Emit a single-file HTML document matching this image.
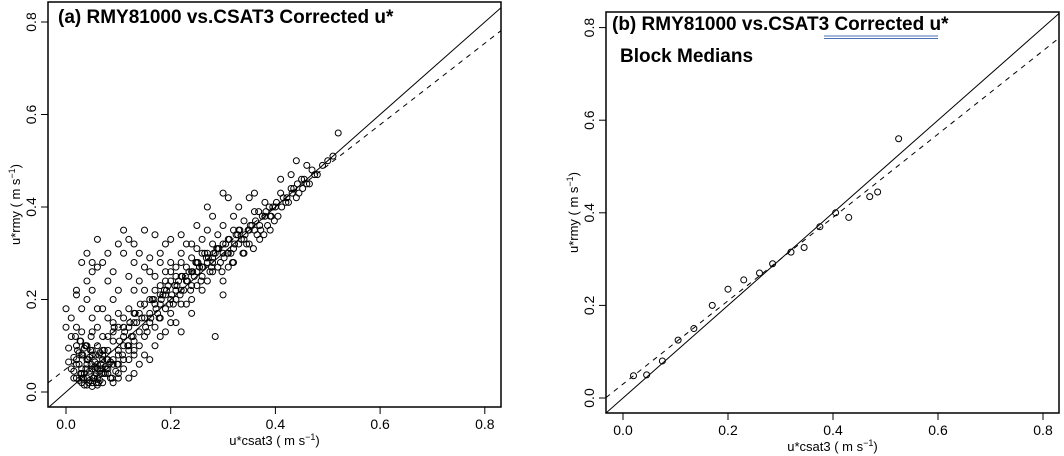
<!DOCTYPE html>
<html><head><meta charset="utf-8"><style>body{margin:0;background:#fff}svg{display:block}</style></head>
<body>
<svg id="c" width="1064" height="456" xmlns="http://www.w3.org/2000/svg" font-family="Liberation Sans, sans-serif">
<defs>
<clipPath id="clipA"><rect x="48" y="2" width="453" height="405"/></clipPath>
<clipPath id="clipB"><rect x="606" y="12" width="453" height="401"/></clipPath>
</defs>
<g id="pa"></g>
<g id="pb"></g>
<text x="58" y="23" font-family="Liberation Sans, sans-serif" font-weight="bold" font-size="19">(a) RMY81000 vs.CSAT3  Corrected u*</text>
<text x="612" y="30" font-weight="bold" font-size="19">(b) RMY81000 vs.CSAT3  Corrected u*</text>
<text x="620" y="62" font-weight="bold" font-size="19">Block Medians</text>
<line x1="824" y1="36" x2="938" y2="36" stroke="#4a6fb5" stroke-width="1"/>
<line x1="824" y1="38.5" x2="938" y2="38.5" stroke="#4a6fb5" stroke-width="1"/>
</svg>
<script>
const ticks = [0, 0.2, 0.4, 0.6, 0.8];
const tickLabels = ["0.0", "0.2", "0.4", "0.6", "0.8"];
const aX = [0.02,0.03,0.04,0.05,0.06,0.07,0.03,0.04,0.05,0.06,0.02,0.03,0.05,0.07,0.08,0.01,0.02,0.04,0.06,0.08,0.09,0.1,0.035,0.045,0.055,0.065,0.025,0.015,0.075,0.085,0.05,0.04,0.03,0.06,0.09,0.1,0.11,0.12,0.13,0.12,0.14,0.07,0.09,0.05,0.03,0.01,0.02,0.0,0.01,0.03,0.04,0.02,0.05,0.06,0.08,0.1,0.11,0.12,0.1,0.08,0.06,0.13,0.14,0.15,0.16,0.15,0.13,0.12,0.11,0.1,0.12,0.14,0.16,0.17,0.18,0.17,0.19,0.2,0.18,0.16,0.15,0.14,0.13,0.12,0.1,0.09,0.08,0.07,0.06,0.04,0.03,0.04,0.05,0.1,0.11,0.12,0.14,0.15,0.17,0.13,0.15,0.17,0.18,0.19,0.2,0.21,0.22,0.21,0.2,0.22,0.23,0.24,0.24,0.25,0.23,0.22,0.2,0.18,0.19,0.25,0.26,0.27,0.26,0.28,0.27,0.29,0.28,0.3,0.31,0.29,0.3,0.32,0.33,0.31,0.32,0.34,0.35,0.33,0.36,0.37,0.35,0.38,0.4,0.39,0.41,0.42,0.43,0.44,0.45,0.43,0.46,0.41,0.44,0.47,0.48,0.49,0.5,0.51,0.52,0.46,0.36,0.37,0.39,0.34,0.3,0.28,0.26,0.24,0.22,0.2,0.18,0.25,0.27,0.24,0.22,0.21,0.19,0.23,0.2,0.24,0.22,0.285,0.3,0.32,0.35,0.25,0.28,0.31,0.3,0.27,0.16,0.18,0.08,0.06,0.11,0.05,0.02,0.0,0.13,0.16,0.09,0.07,0.05,0.09,0.11,0.13,0.15,0.17,0.16,0.18,0.19,0.21,0.14,0.1,0.08,0.07,0.055,0.045,0.035,0.025,0.015,0.065,0.075,0.085,0.095,0.025,0.035,0.045,0.055,0.065,0.015,0.005,0.005,0.26,0.27,0.25,0.23,0.21,0.29,0.31,0.33,0.34,0.36,0.38,0.24,0.22,0.2,0.26,0.28,0.3,0.32,0.17,0.19,0.15,0.13,0.11,0.09,
0.028,0.038,0.048,0.058,0.068,0.078,0.022,0.032,0.042,0.052,0.062,0.072,0.082,0.027,0.037,0.047,0.057,0.067,0.077,0.033,0.043,0.053,0.063,0.073,0.018,0.028,0.038,0.048,0.058,0.068,0.088,0.098,0.108,0.118,0.128,0.092,0.102,0.112,0.122,0.132,0.142,0.152,0.162,0.172,0.182,0.192,0.202,0.212,0.222,0.232,0.242,0.252,0.262,0.272,0.282,0.292,0.302,0.312,0.322,0.332,0.342,0.352,0.362,0.372,0.382,0.392,0.402,0.412,0.422,0.432,0.442,0.452,0.145,0.155,0.165,0.175,0.185,0.195,0.205,0.215,0.225,0.235,0.245,0.255,0.265,0.275,0.285,0.295,0.305,0.315,0.325,0.335,0.345,0.355,0.365,0.375,0.385,0.395,0.405,0.415,0.425,0.435,0.445,0.455,0.465,0.475,0.125,0.135,0.168,0.178,0.188,0.198,0.208,0.218,0.228,0.238,0.248,0.258,0.268,0.278,0.288,0.298,0.308,0.318,0.328,0.338,0.348,0.358,0.368,0.378,0.388,0.398,0.04,0.05,0.06,0.07,0.08,0.09,0.1,0.11,0.03,0.02,0.12,0.13];
const aY = [0.03,0.02,0.03,0.02,0.03,0.02,0.05,0.06,0.05,0.06,0.07,0.08,0.08,0.07,0.05,0.05,0.1,0.1,0.1,0.09,0.07,0.06,0.04,0.045,0.035,0.045,0.06,0.03,0.04,0.03,0.012,0.015,0.03,0.015,0.02,0.04,0.05,0.03,0.04,0.07,0.06,0.12,0.11,0.13,0.13,0.12,0.14,0.14,0.16,0.18,0.2,0.21,0.22,0.18,0.16,0.14,0.12,0.1,0.09,0.12,0.14,0.11,0.13,0.12,0.15,0.16,0.15,0.14,0.16,0.17,0.18,0.17,0.17,0.14,0.16,0.19,0.18,0.2,0.21,0.2,0.22,0.24,0.22,0.25,0.22,0.26,0.24,0.28,0.27,0.24,0.28,0.3,0.26,0.32,0.3,0.33,0.3,0.35,0.34,0.28,0.27,0.25,0.23,0.26,0.24,0.22,0.25,0.27,0.28,0.3,0.27,0.26,0.29,0.31,0.32,0.34,0.33,0.3,0.32,0.28,0.27,0.3,0.33,0.32,0.35,0.34,0.29,0.3,0.33,0.27,0.36,0.35,0.32,0.3,0.38,0.37,0.35,0.4,0.39,0.36,0.42,0.41,0.4,0.38,0.43,0.41,0.44,0.42,0.46,0.47,0.45,0.46,0.5,0.48,0.47,0.49,0.5,0.51,0.56,0.49,0.43,0.33,0.35,0.3,0.24,0.26,0.22,0.2,0.19,0.17,0.19,0.23,0.24,0.23,0.22,0.2,0.21,0.19,0.15,0.17,0.13,0.12,0.21,0.28,0.32,0.36,0.38,0.42,0.43,0.4,0.29,0.28,0.3,0.33,0.35,0.28,0.22,0.18,0.32,0.26,0.2,0.18,0.16,0.15,0.1,0.09,0.08,0.1,0.07,0.12,0.13,0.15,0.1,0.03,0.07,0.09,0.065,0.075,0.095,0.085,0.075,0.085,0.055,0.065,0.045,0.025,0.015,0.025,0.055,0.025,0.045,0.065,0.095,0.3,0.28,0.26,0.24,0.25,0.31,0.27,0.35,0.33,0.35,0.38,0.32,0.28,0.26,0.25,0.28,0.32,0.31,0.22,0.24,0.19,0.17,0.14,0.13,
0.04,0.05,0.06,0.04,0.05,0.07,0.09,0.08,0.07,0.03,0.02,0.04,0.06,0.11,0.1,0.09,0.08,0.06,0.05,0.03,0.02,0.03,0.08,0.09,0.12,0.11,0.1,0.12,0.02,0.04,0.03,0.06,0.08,0.1,0.12,0.14,0.11,0.13,0.15,0.17,0.19,0.14,0.16,0.18,0.2,0.22,0.21,0.23,0.25,0.24,0.26,0.28,0.27,0.29,0.3,0.31,0.29,0.33,0.32,0.35,0.34,0.36,0.37,0.35,0.39,0.38,0.41,0.4,0.42,0.43,0.45,0.44,0.16,0.13,0.2,0.17,0.21,0.23,0.19,0.24,0.22,0.26,0.25,0.27,0.3,0.26,0.3,0.28,0.32,0.3,0.34,0.33,0.32,0.36,0.34,0.38,0.36,0.4,0.38,0.42,0.41,0.44,0.43,0.46,0.45,0.47,0.12,0.15,0.2,0.16,0.22,0.19,0.23,0.21,0.25,0.22,0.28,0.24,0.29,0.27,0.31,0.26,0.3,0.28,0.34,0.3,0.35,0.31,0.39,0.34,0.4,0.37,0.07,0.09,0.05,0.08,0.04,0.06,0.08,0.07,0.04,0.06,0.09,0.08];
const bX = [0.02,0.045,0.075,0.105,0.135,0.17,0.2,0.23,0.26,0.285,0.32,0.345,0.375,0.405,0.43,0.47,0.485,0.525];
const bY = [0.048,0.05,0.08,0.125,0.15,0.2,0.235,0.255,0.27,0.29,0.315,0.325,0.37,0.4,0.39,0.435,0.445,0.56];
const fitA = [0.05, 0.88];
const fitB = [0.03, 0.9];

const NS = 'http://www.w3.org/2000/svg';
function mk(tag, attrs, parent){const e=document.createElementNS(NS,tag);for(const k in attrs)e.setAttribute(k,attrs[k]);parent.appendChild(e);return e;}

function panel(g, P, xs, ys, fit, clipId, pre){
  const sx = v => P.x0 + v*P.kx, sy = v => P.y0 - v*P.ky;
  const inv = px => (px - P.x0)/P.kx;
  const dg = mk('g', {'clip-path':'url(#'+clipId+')'}, g);
  const uL = inv(P.L), uR = inv(P.R);
  let l = mk('line',{x1:sx(uL),y1:sy(uL),x2:sx(uR),y2:sy(uR),stroke:'#000','stroke-width':1},dg);
  
  
  l = mk('line',{x1:sx(uL),y1:sy(fit[0]+fit[1]*uL),x2:sx(uR),y2:sy(fit[0]+fit[1]*uR),stroke:'#000','stroke-width':1,'stroke-dasharray':'5,5'},dg);
  
  
  for(let i=0;i<xs.length;i++){
    const c = mk('circle',{cx:sx(xs[i]),cy:sy(ys[i]),r:3,fill:'none',stroke:'#000','stroke-width':1},dg);
    
    
  }
  const box = mk('rect',{x:P.L,y:P.T,width:P.R-P.L,height:P.B-P.T,fill:'none',stroke:'#000','stroke-width':1.5},g);
  
  
  ticks.forEach((t,i)=>{
    const x = sx(t);
    mk('line',{x1:x,y1:P.B,x2:x,y2:P.B+7,stroke:'#000'},g);
    const tx = mk('text',{x:x,y:P.B+22,'text-anchor':'middle','font-size':14},g);
    tx.textContent = tickLabels[i];
    
    
    const y = sy(t);
    mk('line',{x1:P.L-7,y1:y,x2:P.L,y2:y,stroke:'#000'},g);
    const ty = mk('text',{x:P.L-12,y:y,'text-anchor':'middle','font-size':14,transform:'rotate(-90 '+(P.L-12)+' '+y+')'},g);
    ty.textContent = tickLabels[i];
    
    
  });
  const xt = mk('text',{x:(P.L+P.R)/2,y:P.B+38,'text-anchor':'middle','font-size':13},g);
  xt.innerHTML = 'u*csat3 ( m s<tspan dy="-5" font-size="9">−1</tspan><tspan dy="5">)</tspan>';
  
  
  const yc = (P.T+P.B)/2, yx = P.L-28;
  const yt = mk('text',{x:yx,y:yc,'text-anchor':'middle','font-size':13,transform:'rotate(-90 '+yx+' '+yc+')'},g);
  yt.innerHTML = 'u*rmy ( m s<tspan dy="-5" font-size="9">−1</tspan><tspan dy="5">)</tspan>';
  
  
}
panel(document.getElementById('pa'), {L:48,R:501,T:2,B:407,x0:66,kx:523.5,y0:392,ky:462.5}, aX, aY, fitA, 'clipA', 'a-');
panel(document.getElementById('pb'), {L:606,R:1059,T:12,B:413,x0:623,kx:525,y0:398,ky:463}, bX, bY, fitB, 'clipB', 'b-');
</script>
</body></html>
